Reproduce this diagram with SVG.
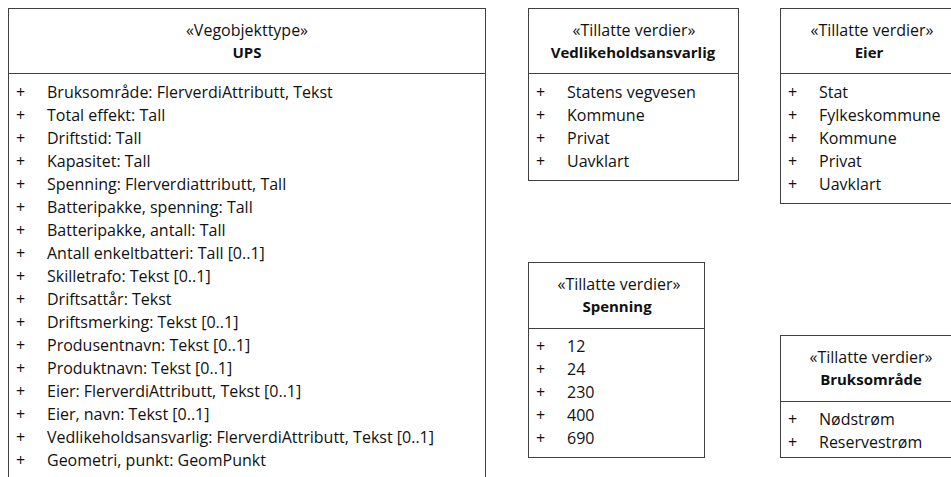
<svg xmlns="http://www.w3.org/2000/svg" width="951" height="477" viewBox="0 0 951 477">
<style>
.box{fill:#fff;stroke:#404040;stroke-width:1}
.sep{stroke:#404040;stroke-width:1}
text{font-family:"Open Sans","Liberation Sans",Arial,sans-serif;font-size:16px;fill:#111}
.st{text-anchor:middle}
.nm{text-anchor:middle;font-weight:bold;font-size:15px}
</style>
<rect width="951" height="477" fill="#fff"/>
<g id="ups">
<rect class="box" x="8.5" y="8.5" width="477" height="480"/>
<line class="sep" x1="8.5" y1="73.5" x2="485.5" y2="73.5"/>
<text class="st" x="247" y="36">«Vegobjekttype»</text>
<text class="nm" x="247" y="58">UPS</text>
<g>
<text x="16" y="98">+</text><text x="47" y="98">Bruksområde: FlerverdiAttributt, Tekst</text>
<text x="16" y="121">+</text><text x="47" y="121">Total effekt: Tall</text>
<text x="16" y="144">+</text><text x="47" y="144">Driftstid: Tall</text>
<text x="16" y="167">+</text><text x="47" y="167">Kapasitet: Tall</text>
<text x="16" y="190">+</text><text x="47" y="190">Spenning: Flerverdiattributt, Tall</text>
<text x="16" y="213">+</text><text x="47" y="213">Batteripakke, spenning: Tall</text>
<text x="16" y="236">+</text><text x="47" y="236">Batteripakke, antall: Tall</text>
<text x="16" y="259">+</text><text x="47" y="259">Antall enkeltbatteri: Tall [0..1]</text>
<text x="16" y="282">+</text><text x="47" y="282">Skilletrafo: Tekst [0..1]</text>
<text x="16" y="305">+</text><text x="47" y="305">Driftsattår: Tekst</text>
<text x="16" y="328">+</text><text x="47" y="328">Driftsmerking: Tekst [0..1]</text>
<text x="16" y="351">+</text><text x="47" y="351">Produsentnavn: Tekst [0..1]</text>
<text x="16" y="374">+</text><text x="47" y="374">Produktnavn: Tekst [0..1]</text>
<text x="16" y="397">+</text><text x="47" y="397">Eier: FlerverdiAttributt, Tekst [0..1]</text>
<text x="16" y="420">+</text><text x="47" y="420">Eier, navn: Tekst [0..1]</text>
<text x="16" y="443">+</text><text x="47" y="443">Vedlikeholdsansvarlig: FlerverdiAttributt, Tekst [0..1]</text>
<text x="16" y="466">+</text><text x="47" y="466">Geometri, punkt: GeomPunkt</text>
</g>
</g>
<g id="vedlikeholdsansvarlig">
<rect class="box" x="528.5" y="8.5" width="210" height="172"/>
<line class="sep" x1="528.5" y1="73.5" x2="738.5" y2="73.5"/>
<text class="st" x="634" y="36">«Tillatte verdier»</text>
<text class="nm" x="633" y="58">Vedlikeholdsansvarlig</text>
<text x="536" y="98">+</text><text x="567" y="98">Statens vegvesen</text>
<text x="536" y="121">+</text><text x="567" y="121">Kommune</text>
<text x="536" y="144">+</text><text x="567" y="144">Privat</text>
<text x="536" y="167">+</text><text x="567" y="167">Uavklart</text>
</g>
<g id="eier">
<rect class="box" x="780.5" y="8.5" width="184" height="195"/>
<line class="sep" x1="780.5" y1="73.5" x2="964.5" y2="73.5"/>
<text class="st" x="872" y="36">«Tillatte verdier»</text>
<text class="nm" x="869" y="58">Eier</text>
<text x="788" y="98">+</text><text x="819" y="98">Stat</text>
<text x="788" y="121">+</text><text x="819" y="121">Fylkeskommune</text>
<text x="788" y="144">+</text><text x="819" y="144">Kommune</text>
<text x="788" y="167">+</text><text x="819" y="167">Privat</text>
<text x="788" y="190">+</text><text x="819" y="190">Uavklart</text>
</g>
<g id="spenning">
<rect class="box" x="528.5" y="262.5" width="176" height="195"/>
<line class="sep" x1="528.5" y1="328.5" x2="704.5" y2="328.5"/>
<text class="st" x="619" y="290">«Tillatte verdier»</text>
<text class="nm" x="617" y="312">Spenning</text>
<text x="536" y="352">+</text><text x="567" y="352">12</text>
<text x="536" y="375">+</text><text x="567" y="375">24</text>
<text x="536" y="398">+</text><text x="567" y="398">230</text>
<text x="536" y="421">+</text><text x="567" y="421">400</text>
<text x="536" y="444">+</text><text x="567" y="444">690</text>
</g>
<g id="bruksomrade">
<rect class="box" x="780.5" y="335.5" width="184" height="122"/>
<line class="sep" x1="780.5" y1="401.5" x2="964.5" y2="401.5"/>
<text class="st" x="871" y="363">«Tillatte verdier»</text>
<text class="nm" x="871" y="385">Bruksområde</text>
<text x="788" y="425">+</text><text x="819" y="425">Nødstrøm</text>
<text x="788" y="448">+</text><text x="819" y="448">Reservestrøm</text>
</g>
<g id="connectors"/>
</svg>
